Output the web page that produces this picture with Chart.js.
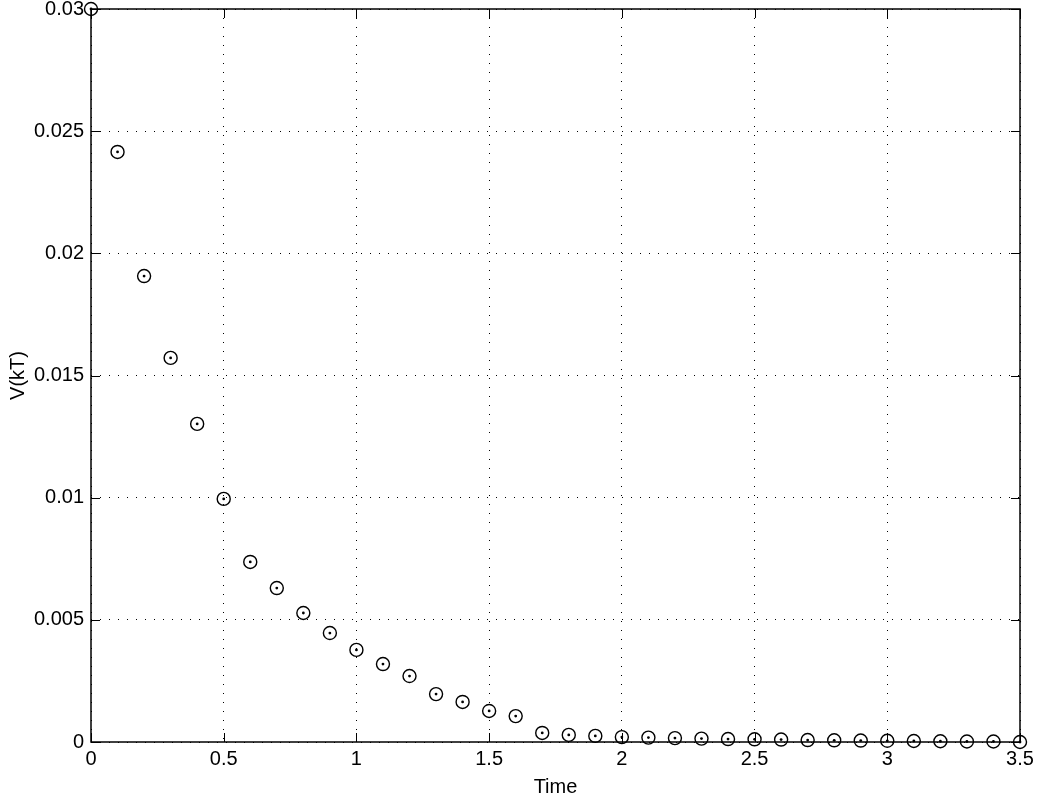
<!DOCTYPE html>
<html>
<head>
<meta charset="utf-8">
<script src="https://cdn.jsdelivr.net/npm/chart.js@4"></script>
<style>
  html, body { margin: 0; padding: 0; background: #fff; }
  #wrap { width: 1050px; height: 798px; }
</style>
</head>
<body>
<div id="wrap"><canvas id="chart" width="1050" height="798"></canvas></div>
<script>
// data
const times = [0, 0.1, 0.2, 0.3, 0.4, 0.5, 0.6, 0.7, 0.8, 0.9, 1.0, 1.1, 1.2, 1.3, 1.4, 1.5, 1.6, 1.7,
  1.8, 1.9, 2.0, 2.1, 2.2, 2.3, 2.4, 2.5, 2.6, 2.7, 2.8, 2.9, 3.0, 3.1, 3.2, 3.3, 3.4, 3.5];
const vkt = [0.03, 0.02415, 0.01907, 0.01572, 0.01302, 0.00995, 0.00737, 0.0063, 0.00528, 0.00446,
  0.00377, 0.00319, 0.0027, 0.00196, 0.00164, 0.00127, 0.00106, 0.00037, 0.00029, 0.00025,
  0.0002, 0.00018, 0.00016, 0.00014, 0.00012, 0.00011, 0.0001, 0.00008, 0.00007, 0.00006,
  0.00005, 0.00004, 0.00003, 0.00002, 0.00002, 0];
const xTicks = [0, 0.5, 1, 1.5, 2, 2.5, 3, 3.5];
const yTicks = [0, 0.005, 0.01, 0.015, 0.02, 0.025, 0.03];

const points = times.map((t, i) => ({ x: t, y: vkt[i] }));

//BOX + INWARD TICKS (matlab style)
const boxPlugin = {
  id: 'box',
  afterDraw(chart) {
    const ctx = chart.ctx;
    const a = chart.chartArea;
    const xs = chart.scales.x, ys = chart.scales.y;
    ctx.save();
    ctx.strokeStyle = '#000';
    ctx.lineWidth = 1.5;
    ctx.strokeRect(a.left, a.top, a.right - a.left, a.bottom - a.top);
    ctx.lineWidth = 1;
    ctx.beginPath();
    xTicks.forEach(v => {
      let px = Math.round(xs.getPixelForValue(v)) + 0.5;
      ctx.moveTo(px, a.bottom); ctx.lineTo(px, a.bottom - 9);
      ctx.moveTo(px, a.top); ctx.lineTo(px, a.top + 9);
    });
    yTicks.forEach(v => {
      let py = Math.round(ys.getPixelForValue(v)) + 0.5;
      ctx.moveTo(a.left, py); ctx.lineTo(a.left + 9, py);
      ctx.moveTo(a.right, py); ctx.lineTo(a.right - 9, py);
    });
    ctx.stroke();
    ctx.restore();
  }
};

const font = { family: 'Liberation Sans, Arial, sans-serif', size: 20 };

new Chart(document.getElementById('chart'), {
  type: 'scatter',
  data: {
    datasets: [
      {
        label: 'ring',
        data: points,
        pointStyle: 'circle',
        pointRadius: 6.5,
        pointBorderWidth: 1.4,
        pointBorderColor: '#000',
        pointBackgroundColor: 'rgba(0,0,0,0)',
        clip: false
      },
      {
        label: 'dot',
        data: points,
        pointStyle: 'circle',
        pointRadius: 1.4,
        pointBorderWidth: 0,
        pointBackgroundColor: '#000',
        clip: false
      }
    ]
  },
  options: {
    responsive: false,
    animation: false,
    layout: { padding: { left: 0, top: 9, right: 30, bottom: 0 } },
    plugins: {
      legend: { display: false },
      tooltip: { enabled: false }
    },
    scales: {
      x: {
        type: 'linear',
        min: 0,
        max: 3.5,
        afterBuildTicks: s => { s.ticks = xTicks.map(v => ({ value: v })); },
        afterFit: s => { s.height = 56; s.paddingLeft = 0; s.paddingRight = 0; },
        grid: { color: '#000', lineWidth: 1, drawTicks: false },
        border: { display: false, dash: [1, 8] },
        ticks: {
          color: '#000',
          font: font,
          padding: 5,
          maxRotation: 0,
          callback: v => String(v)
        },
        title: { display: true, text: 'Time', color: '#000', font: font, padding: { top: 0, bottom: -1 } }
      },
      y: {
        type: 'linear',
        min: 0,
        max: 0.03,
        afterBuildTicks: s => { s.ticks = yTicks.map(v => ({ value: v })); },
        afterFit: s => { s.width = 91; s.paddingTop = 0; s.paddingBottom = 0; },
        grid: { color: '#000', lineWidth: 1, drawTicks: false },
        border: { display: false, dash: [1, 8] },
        ticks: {
          color: '#000',
          font: font,
          padding: 7,
          callback: v => String(Number(v.toFixed(3)))
        },
        title: { display: true, text: 'V(kT)', color: '#000', font: font, padding: { top: 6, bottom: 0 } }
      }
    }
  },
  plugins: [boxPlugin]
});
</script>
</body>
</html>
